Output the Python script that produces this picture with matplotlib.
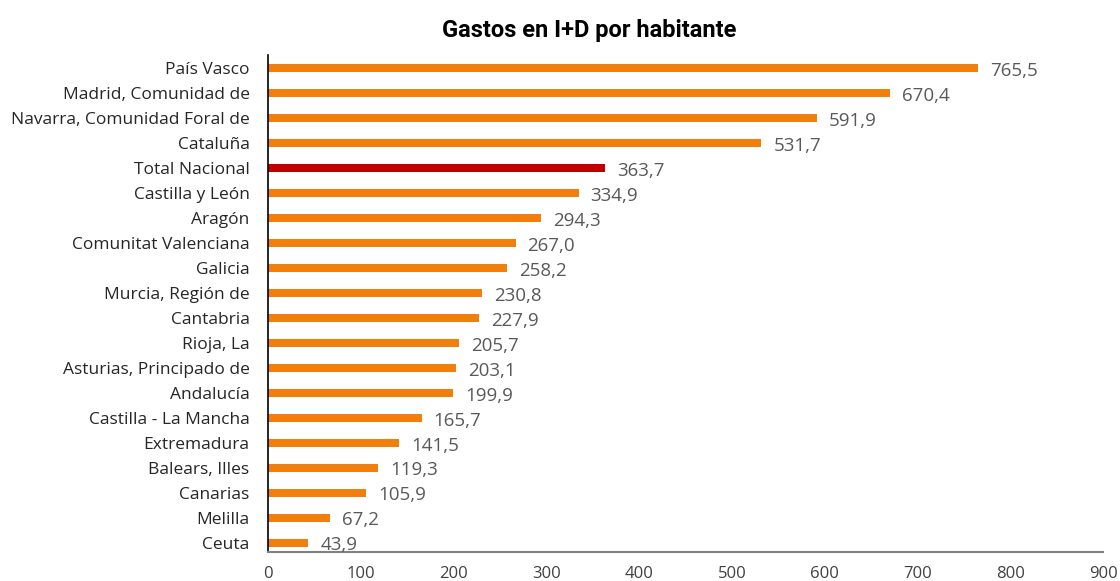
import matplotlib.pyplot as plt

regions = ["País Vasco", "Madrid, Comunidad de", "Navarra, Comunidad Foral de",
           "Cataluña", "Total Nacional", "Castilla y León", "Aragón",
           "Comunitat Valenciana", "Galicia", "Murcia, Región de", "Cantabria",
           "Rioja, La", "Asturias, Principado de", "Andalucía",
           "Castilla - La Mancha", "Extremadura", "Balears, Illes", "Canarias",
           "Melilla", "Ceuta"]
gasto = [765.5, 670.4, 591.9, 531.7, 363.7, 334.9, 294.3, 267.0, 258.2, 230.8,
         227.9, 205.7, 203.1, 199.9, 165.7, 141.5, 119.3, 105.9, 67.2, 43.9]
xticks = [0, 100, 200, 300, 400, 500, 600, 700, 800, 900]

plt.rcParams['font.family'] = ['Open Sans', 'DejaVu Sans']

fig = plt.figure(figsize=(11.2, 5.81), dpi=100)
ax = fig.add_axes([0.239, 0.05, 0.746, 0.855])

colors = ['#C00000' if r == "Total Nacional" else '#F27F0C' for r in regions]
pos = list(range(len(regions)))
ax.barh(pos, gasto, height=0.34, color=colors)

for p, v in zip(pos, gasto):
    ax.text(v + 13, p + 0.1, f'{v:.1f}'.replace('.', ','), va='center',
            ha='left', fontsize=13.5, color='#595959')

ax.set_yticks(pos)
ax.set_yticklabels(regions, fontsize=12.5, color='#262626')
ax.set_ylim(19.36, -0.52)
ax.set_xlim(0, 900)
ax.set_xticks(xticks)
ax.set_xticklabels([str(t) for t in xticks], fontsize=12, color='#404040')
ax.tick_params(axis='both', length=0)
ax.tick_params(axis='x', pad=10)
ax.tick_params(axis='y', pad=13)

for s in ['top', 'right']:
    ax.spines[s].set_visible(False)
ax.spines['left'].set_color('#000000')
ax.spines['left'].set_linewidth(1.2)
ax.spines['bottom'].set_color('#808080')
ax.spines['bottom'].set_linewidth(1.5)

fig.text(0.526, 0.948, 'Gastos en I+D por habitante', ha='center', va='center',
         fontsize=17, fontweight='bold', family=['Roboto', 'DejaVu Sans'])

plt.savefig('out.png')
plt.close()
